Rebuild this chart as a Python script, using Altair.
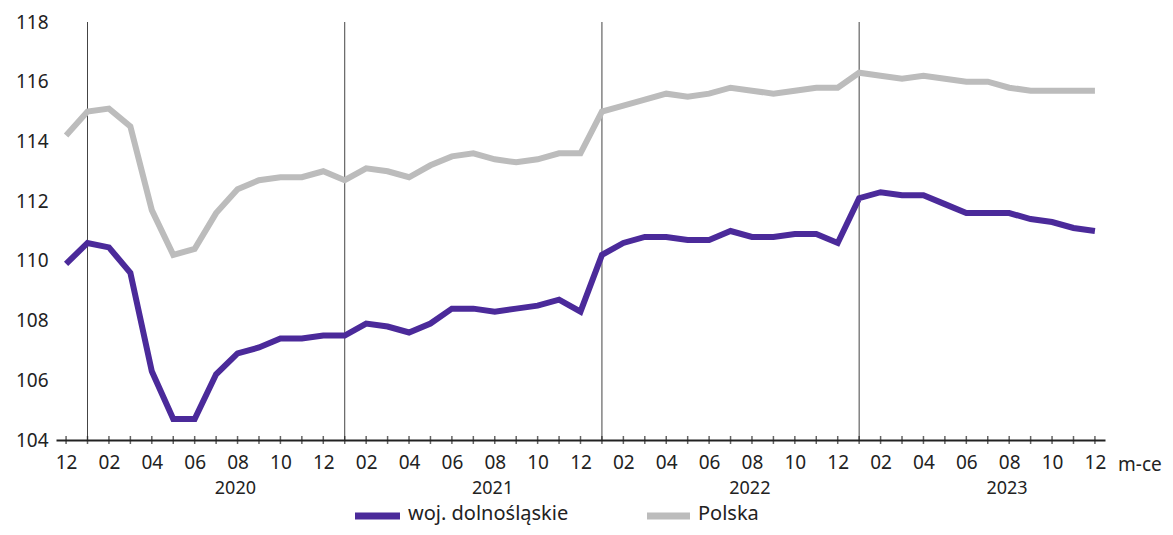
import altair as alt
import pandas as pd

periods = ["2019-12"] + [f"{y}-{m:02d}" for y in (2020, 2021, 2022, 2023) for m in range(1, 13)]
tick_labels = [p[5:] for p in periods]

dolnoslaskie = [109.9, 110.6, 110.45, 109.6, 106.3, 104.7, 104.7, 106.2, 106.9, 107.1, 107.4, 107.4, 107.5,
                107.5, 107.9, 107.8, 107.6, 107.9, 108.4, 108.4, 108.3, 108.4, 108.5, 108.7, 108.3,
                110.2, 110.6, 110.8, 110.8, 110.7, 110.7, 111.0, 110.8, 110.8, 110.9, 110.9, 110.6,
                112.1, 112.3, 112.2, 112.2, 111.9, 111.6, 111.6, 111.6, 111.4, 111.3, 111.1, 111.0]
polska = [114.2, 115.0, 115.1, 114.5, 111.7, 110.2, 110.4, 111.6, 112.4, 112.7, 112.8, 112.8, 113.0,
          112.7, 113.1, 113.0, 112.8, 113.2, 113.5, 113.6, 113.4, 113.3, 113.4, 113.6, 113.6,
          115.0, 115.2, 115.4, 115.6, 115.5, 115.6, 115.8, 115.7, 115.6, 115.7, 115.8, 115.8,
          116.3, 116.2, 116.1, 116.2, 116.1, 116.0, 116.0, 115.8, 115.7, 115.7, 115.7, 115.7]
series_names = ["woj. dolnośląskie", "Polska"]
series_colors = ["#4b2a9a", "#bcbcbc"]
years = ["2020", "2021", "2022", "2023"]

FONT = "Noto Sans"
TXT = "#222222"

rows = []
for i, p in enumerate(periods):
    rows.append({"idx": i, "period": p, "series": series_names[0], "value": dolnoslaskie[i]})
    rows.append({"idx": i, "period": p, "series": series_names[1], "value": polska[i]})
df = pd.DataFrame(rows)
ticks_df = pd.DataFrame({"idx": list(range(len(periods)))})

year_start = pd.DataFrame({"idx": [periods.index(f"{y}-01") for y in years]})
year_lab = pd.DataFrame({"idx": [periods.index(f"{y}-01") + 6.9 for y in years], "year": years})

shown = [t if i % 2 == 0 else "" for i, t in enumerate(tick_labels)]
label_expr = "[" + ",".join(f"'{t}'" for t in shown) + "][round(datum.value)]"

xscale = alt.Scale(domain=[-0.47, 48.47], nice=False, zero=False)
yscale = alt.Scale(domain=[104, 118], nice=False, zero=False)
cscale = alt.Scale(domain=series_names, range=series_colors)

lines = alt.Chart(df).mark_line(strokeWidth=6, strokeJoin="miter", strokeCap="butt").encode(
    x=alt.X("idx:Q", scale=xscale,
            axis=alt.Axis(values=list(range(len(periods))), labelExpr=label_expr, title=None,
                          grid=False, domainColor="#222", domainWidth=2, ticks=False,
                          labelPadding=13, labelFontSize=19, labelColor=TXT,
                          labelFont=FONT, labelFlush=False)),
    y=alt.Y("value:Q", scale=yscale,
            axis=alt.Axis(values=list(range(104, 119, 2)), title=None, domain=False, ticks=False,
                          gridColor="#bdbdbd", gridWidth=1, labelPadding=8, labelFontSize=19,
                          labelColor=TXT, labelFont=FONT)),
    color=alt.Color("series:N", scale=cscale, legend=None),
    order=alt.Order("idx:Q"),
)

xticks = alt.Chart(ticks_df).mark_tick(orient="vertical", size=8, thickness=1.5, color="#222").encode(
    x=alt.X("idx:Q", scale=xscale),
    y=alt.datum(104, scale=yscale),
)

vrules = alt.Chart(year_start).mark_rule(color="#444", strokeWidth=1).encode(
    x=alt.X("idx:Q", scale=xscale),
    y=alt.datum(104, scale=yscale),
    y2=alt.datum(118),
)

ylabels = alt.Chart(year_lab).mark_text(fontSize=18, font=FONT, color=TXT, baseline="middle").encode(
    x=alt.X("idx:Q", scale=xscale),
    y=alt.value(467),
    text="year:N",
)

unit = alt.Chart(pd.DataFrame({"t": ["m-ce"]})).mark_text(
    fontSize=19, font=FONT, color=TXT, align="left", baseline="middle").encode(
    x=alt.value(1062), y=alt.value(443), text="t:N")

leg_df = pd.DataFrame({"series": series_names, "x0": [299, 591], "x1": [344, 634], "tx": [352, 642]})
leg_sw = alt.Chart(leg_df).mark_rule(strokeWidth=7).encode(
    x=alt.X("x0:Q", scale=None), x2="x1:Q", y=alt.value(494),
    color=alt.Color("series:N", scale=cscale, legend=None))
leg_tx = alt.Chart(leg_df).mark_text(fontSize=20, font=FONT, color=TXT, align="left",
                                     baseline="middle").encode(
    x=alt.X("tx:Q", scale=None), y=alt.value(492), text="series:N")

chart = alt.layer(vrules, lines, xticks, ylabels, unit, leg_sw, leg_tx).properties(
    width=1049, height=418,
    padding={"left": 48, "top": 14, "right": 60, "bottom": 87},
    autosize=alt.AutoSizeParams(type="none"),
).configure_view(stroke=None)

chart.save("out.html", embed_options={"renderer": "svg", "actions": False})
